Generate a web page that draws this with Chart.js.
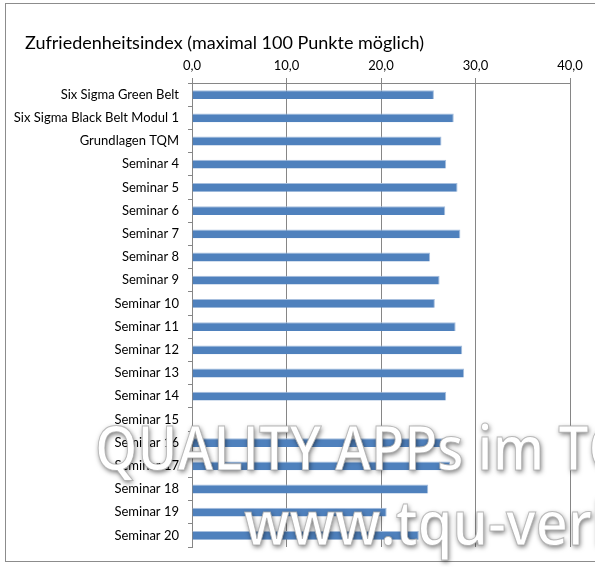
<!DOCTYPE html>
<html>
<head>
<meta charset="utf-8">
<script src="https://cdn.jsdelivr.net/npm/chart.js@4/dist/chart.umd.min.js"></script>
<style>
  html, body { margin: 0; padding: 0; background: #fff; }
  #wrap { position: relative; width: 595px; height: 567px; }
</style>
</head>
<body>
<div id="wrap"><canvas id="c" width="595" height="567"></canvas></div>
<script>
const categories = [
  "Six Sigma Green Belt", "Six Sigma Black Belt Modul 1", "Grundlagen TQM",
  "Seminar 4", "Seminar 5", "Seminar 6", "Seminar 7", "Seminar 8", "Seminar 9",
  "Seminar 10", "Seminar 11", "Seminar 12", "Seminar 13", "Seminar 14",
  "Seminar 15", "Seminar 16", "Seminar 17", "Seminar 18", "Seminar 19", "Seminar 20"
];
const indexValues = [
  25.6, 27.7, 26.4, 26.9, 28.1, 26.8, 28.4, 25.2, 26.2, 25.7,
  27.9, 28.6, 28.8, 26.9, null, 26.6, 27.3, 25.0, 20.6, 24.0
];
const xTicks = [0, 10, 20, 30, 40];
const chartTitle = "Zufriedenheitsindex (maximal 100 Punkte möglich)";
const watermark1 = "QUALITY APPs im TQM";
const watermark2 = "www.tqu-verlag.de";

const FONT = "Lato, 'Open Sans', sans-serif";

function drawMark(ctx, text, x, y, sx) {
  ctx.save();
  ctx.translate(x, y);
  ctx.scale(sx, 1);
  ctx.shadowColor = 'rgba(0,0,0,0.55)';
  ctx.shadowBlur = 5;
  ctx.shadowOffsetX = 1;
  ctx.shadowOffsetY = 2;
  ctx.fillStyle = '#ffffff';
  ctx.fillText(text, 0, 0);
  ctx.shadowColor = 'transparent';
  ctx.strokeStyle = 'rgba(170,170,170,0.8)';
  ctx.lineWidth = 1;
  ctx.strokeText(text, 0, 0);
  ctx.restore();
}

const decor = {
  id: 'decor',
  beforeDraw(chart) {
    const ctx = chart.ctx;
    ctx.save();
    ctx.fillStyle = '#fff';
    ctx.fillRect(0, 0, chart.width, chart.height);
    ctx.strokeStyle = '#8c8c8c';
    ctx.lineWidth = 1;
    ctx.strokeRect(5.5, 3.5, 620, 558);
    ctx.fillStyle = '#000';
    ctx.font = "18px " + FONT;
    ctx.textBaseline = 'alphabetic';
    ctx.textAlign = 'left';
    ctx.fillText(chartTitle, 25, 49);
    ctx.restore();
  },
  afterDraw(chart) {
    const ctx = chart.ctx;
    ctx.save();
    ctx.font = "600 62px 'Open Sans', " + FONT;
    ctx.textBaseline = 'alphabetic';
    ctx.textAlign = 'left';
    drawMark(ctx, watermark1, 95, 470, 0.87);
    drawMark(ctx, watermark2, 244, 545, 0.9);
    ctx.restore();
  }
};

new Chart(document.getElementById('c'), {
  type: 'bar',
  data: {
    labels: categories,
    datasets: [{
      data: indexValues,
      backgroundColor: '#4F81BD',
      borderColor: '#A7BFDE',
      borderWidth: { top: 1, right: 1, bottom: 0, left: 0 },
      borderSkipped: 'left',
      categoryPercentage: 1,
      barPercentage: 0.38
    }]
  },
  options: {
    indexAxis: 'y',
    responsive: false,
    animation: false,
    devicePixelRatio: 1,
    layout: { padding: { left: 0, right: 25, top: 0, bottom: 20 } },
    plugins: { legend: { display: false }, tooltip: { enabled: false }, title: { display: false } },
    scales: {
      x: {
        position: 'top',
        min: 0, max: 40,
        afterBuildTicks(scale) { scale.ticks = xTicks.map(v => ({ value: v })); },
        afterFit(scale) { scale.height = 83; },
        ticks: {
          color: '#000',
          font: { family: FONT, size: 13 },
          padding: 4,
          maxRotation: 0,
          callback: v => v.toFixed(1).replace('.', ',')
        },
        grid: { color: '#868686', lineWidth: 1, tickLength: 5, drawOnChartArea: true },
        border: { color: '#868686', width: 1 }
      },
      y: {
        afterFit(scale) { scale.width = 192; },
        ticks: {
          color: '#000',
          font: { family: FONT, size: 13 },
          padding: 9,
          autoSkip: false
        },
        grid: { offset: true, drawOnChartArea: false, color: '#868686', tickLength: 4 },
        border: { color: '#868686', width: 1 }
      }
    }
  },
  plugins: [decor]
});
</script>
</body>
</html>
